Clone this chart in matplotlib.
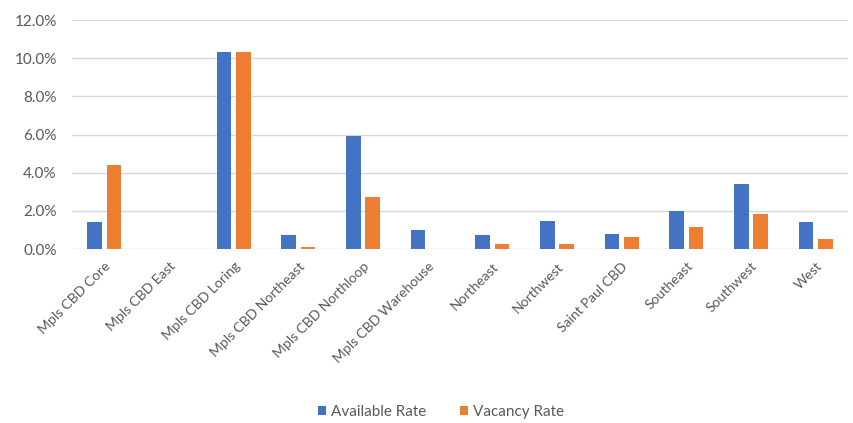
import matplotlib.pyplot as plt
import numpy as np
from matplotlib.ticker import PercentFormatter

submarkets = [
    "Mpls CBD Core", "Mpls CBD East", "Mpls CBD Loring", "Mpls CBD Northeast",
    "Mpls CBD Northloop", "Mpls CBD Warehouse", "Northeast", "Northwest",
    "Saint Paul CBD", "Southeast", "Southwest", "West",
]
available_rate = [1.4, 0.0, 10.3, 0.75, 5.9, 1.0, 0.75, 1.45, 0.8, 2.0, 3.4, 1.4]
vacancy_rate = [4.4, 0.0, 10.3, 0.1, 2.7, 0.0, 0.28, 0.28, 0.65, 1.15, 1.85, 0.5]

BLUE = "#4472C4"
ORANGE = "#ED7D31"
TEXT = "#595959"
GRID = "#D9D9D9"

plt.rcParams["font.family"] = ["Lato", "DejaVu Sans"]

fig = plt.figure(figsize=(8.54, 4.23), dpi=100)
ax = fig.add_axes([72 / 854, (423 - 249) / 423, (848 - 72) / 854, (249 - 20) / 423])

x = np.arange(len(submarkets))
width = 0.23
offset = 0.15
ax.bar(x - offset, available_rate, width, color=BLUE, label="Available Rate", zorder=3)
ax.bar(x + offset, vacancy_rate, width, color=ORANGE, label="Vacancy Rate", zorder=3)

ax.set_xlim(-0.5, len(submarkets) - 0.5)
ax.set_ylim(0, 12)
ax.set_yticks(np.arange(0, 12.1, 2))
ax.yaxis.set_major_formatter(PercentFormatter(decimals=1))
ax.grid(axis="y", color=GRID, linewidth=1, zorder=0)
for side in ax.spines.values():
    side.set_visible(False)
ax.tick_params(axis="both", length=0, colors=TEXT)
ax.tick_params(axis="y", pad=11, labelsize=11)
ax.set_xticks(x)
ax.set_xticklabels(submarkets, rotation=45, ha="right", rotation_mode="anchor")
ax.tick_params(axis="x", pad=8, labelsize=10)

fig.legend(
    loc="center", bbox_to_anchor=(0.516, 11 / 423), ncol=2, frameon=False,
    fontsize=11, labelcolor=TEXT, handlelength=0.55, handleheight=0.55,
    handletextpad=0.3, columnspacing=2.2,
)

fig.savefig("out.png", dpi=100)
